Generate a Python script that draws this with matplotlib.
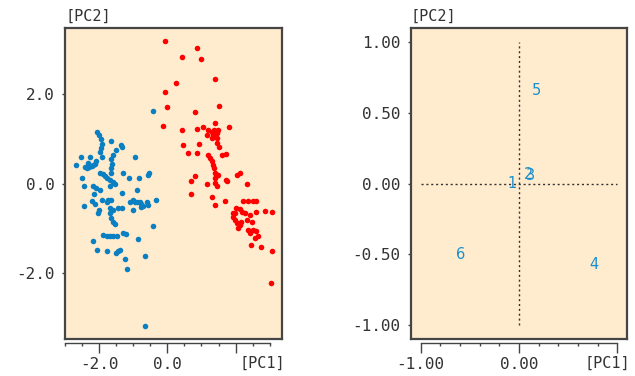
import matplotlib
matplotlib.use('Agg')
import matplotlib.pyplot as plt

plt.rcParams['axes.unicode_minus'] = False

# scores (left panel)
blue_pc1 = [-2.06, -2.00, -1.96, -1.93, -1.95, -1.98, -1.93, -1.64, -1.36, -1.34,
            -1.52, -1.59, -1.64, -1.61, -1.64, -1.64, -2.52, -2.27, -0.95, -2.69,
            -2.42, -2.35, -2.29, -2.22, -2.17, -2.13, -2.08, -2.32, -1.98, -1.90,
            -1.83, -1.78, -1.69, -1.59, -1.54, -1.69, -2.49, -2.44, -2.17, -2.08,
            -1.98, -1.30, -1.12, -0.84, -0.53, -0.58, -0.90, -1.32, -2.15, -2.20,
            -1.93, -1.74, -1.64, -1.78, -2.44, -2.13, -2.00, -2.03, -1.69, -1.59,
            -1.44, -1.34, -1.69, -1.10, -1.02, -0.95, -0.88, -0.81, -0.76, -0.71,
            -0.78, -1.00, -0.59, -0.56, -0.33, -1.64, -1.59, -1.54, -1.88, -1.78,
            -1.69, -1.59, -1.49, -1.30, -1.20, -2.19, -0.87, -0.41, -2.06, -1.78,
            -1.51, -1.44, -1.39, -1.25, -0.66, -1.17, -0.66, -0.42]
blue_pc2 = [1.17, 1.09, 1.00, 0.89, 0.80, 0.70, 0.61, 0.96, 0.87, 0.83,
            0.76, 0.65, 0.55, 0.44, 0.35, 0.25, 0.61, 0.61, 0.61, 0.41,
            0.38, 0.35, 0.37, 0.40, 0.42, 0.44, 0.50, 0.46, 0.25, 0.22,
            0.17, 0.12, 0.09, 0.03, -0.01, -0.06, 0.12, -0.04, -0.06, -0.09,
            -0.14, 0.23, 0.12, 0.12, 0.25, 0.20, -0.15, -0.21, -0.23, -0.39,
            -0.36, -0.36, -0.36, -0.42, -0.49, -0.45, -0.59, -0.66, -0.55, -0.59,
            -0.55, -0.55, -0.66, -0.40, -0.36, -0.40, -0.40, -0.42, -0.45, -0.51,
            -0.53, -0.59, -0.40, -0.47, -0.36, -0.77, -0.85, -0.90, -1.15, -1.17,
            -1.17, -1.17, -1.17, -1.11, -1.13, -1.28, -1.24, -0.94, -1.49, -1.51,
            -1.56, -1.51, -1.48, -1.69, -1.62, -1.92, -3.19, 1.64]

red_pc1 = [-0.07, 0.88, 0.43, 0.98, 1.39, 0.26, -0.07, -0.02, 0.81, 1.52,
           1.39, -0.12, 0.43, 0.88, 1.05, 1.20, 1.30, 1.36, 1.44, 1.49,
           1.34, 1.15, 1.30, 1.44, 1.46, 1.81, 0.46, 0.59, 0.88, 0.93,
           1.52, 1.59, 1.71, 1.20, 1.25, 1.30, 1.34, 1.36, 1.39, 1.44,
           1.49, 1.39, 0.81, 0.68, 1.15, 1.39, 1.44, 1.72, 1.76, 2.03,
           2.13, 2.32, 0.68, 1.32, 1.39, 1.69, 1.98, 2.22, 2.37, 2.52,
           2.61, 2.01, 2.13, 2.20, 2.27, 1.91, 1.93, 1.98, 2.03, 2.13,
           2.08, 2.17, 2.32, 2.42, 2.47, 2.37, 2.42, 2.52, 2.61, 2.66,
           2.57, 2.44, 2.74, 2.86, 3.07, 2.61, 3.07, 3.03]
red_pc2 = [3.21, 3.04, 2.84, 2.79, 2.35, 2.26, 2.06, 1.73, 1.60, 1.74,
           1.36, 1.30, 1.21, 1.22, 1.27, 1.21, 1.17, 1.21, 1.13, 1.21,
           1.09, 1.09, 1.02, 1.02, 0.91, 1.27, 0.86, 0.68, 0.68, 0.89,
           0.83, 0.65, 0.66, 0.65, 0.57, 0.50, 0.42, 0.35, 0.23, 0.20,
           0.20, 0.12, 0.17, 0.05, -0.01, 0.01, -0.05, 0.09, 0.05, 0.20,
           0.25, -0.01, -0.24, -0.30, -0.47, -0.39, -0.65, -0.39, -0.39, -0.39,
           -0.39, -0.54, -0.57, -0.63, -0.66, -0.66, -0.74, -0.81, -0.89, -0.92,
           -1.00, -0.85, -0.81, -0.70, -0.85, -1.04, -1.11, -1.04, -1.07, -1.17,
           -1.22, -1.37, -1.41, -0.61, -0.63, -0.63, -1.51, -2.23]

# loadings (right panel)
var_names = ['1', '2', '3', '4', '5', '6']
load_pc1 = [-0.07, 0.095, 0.12, 0.76, 0.18, -0.59]
load_pc2 = [0.00, 0.065, 0.06, -0.576, 0.66, -0.50]

bg = '#ffecce'
edge = '#454545'
mono = 'DejaVu Sans Mono'

fig = plt.figure(figsize=(6.35, 3.76), dpi=100)
ax1 = fig.add_axes([0.1024, 0.0984, 0.3417, 0.8271])
ax2 = fig.add_axes([0.6472, 0.0984, 0.3402, 0.8271])


def style(ax, xlim, ylim, xmajor, xlabels, xminor, yticks, ylabels):
    ax.set_facecolor(bg)
    ax.set_xlim(xlim)
    ax.set_ylim(ylim)
    for s in ['left', 'top', 'right']:
        ax.spines[s].set_color(edge)
        ax.spines[s].set_linewidth(1.6)
    # box bottom edge, x axis drawn a little below it
    ax.plot([0, 1], [0, 0], transform=ax.transAxes, color=edge, lw=1.6,
            clip_on=False, zorder=5)
    ax.spines['bottom'].set_position(('outward', 3))
    ax.spines['bottom'].set_bounds(xminor[0], xminor[-1])
    ax.spines['bottom'].set_color(edge)
    ax.spines['bottom'].set_linewidth(1.0)
    ax.set_xticks(xmajor)
    ax.set_xticklabels(xlabels, family=mono, fontsize=11.5, color='#333333')
    ax.set_xticks(xminor, minor=True)
    ax.set_yticks(yticks)
    ax.set_yticklabels(ylabels, family=mono, fontsize=11.5, color='#333333')
    ax.tick_params(axis='x', which='major', length=7, width=1, color=edge, pad=3)
    ax.tick_params(axis='x', which='minor', length=2.5, width=1, color=edge)
    ax.tick_params(axis='y', length=2.5, width=1, color=edge, pad=5)
    ax.text(0.0, 1.039, '[PC2]', transform=ax.transAxes, ha='left', va='center',
            family=mono, fontsize=11, color='#333333')
    ax.text(1.015, -0.077, '[PC1]', transform=ax.transAxes, ha='right', va='center',
            family=mono, fontsize=11, color='#333333')


style(ax1, (-3.0, 3.36), (-3.48, 3.49),
      [-2, 0, 2], ['-2.0', '0.0', ''],
      [-3 + 0.5 * i for i in range(13)],
      [-2, 0, 2], ['-2.0', '0.0', '2.0'])
ax1.plot(blue_pc1, blue_pc2, 'o', color='#0a7fc2', markersize=4, markeredgewidth=0)
ax1.plot(red_pc1, red_pc2, 'o', color='#ff0000', markersize=4, markeredgewidth=0)

style(ax2, (-1.1, 1.1), (-1.1, 1.1),
      [-1, 0, 1], ['-1.00', '0.00', ''],
      [-1 + 0.2 * i for i in range(11)],
      [-1, -0.5, 0, 0.5, 1], ['-1.00', '-0.50', '0.00', '0.50', '1.00'])
ax2.plot([-1, 1], [0, 0], color='#333333', lw=1, linestyle=(0, (1.5, 2)))
ax2.plot([0, 0], [-1, 1], color='#333333', lw=1, linestyle=(0, (1.5, 2)))
for name, x, y in zip(var_names, load_pc1, load_pc2):
    ax2.text(x, y, name, ha='center', va='center', fontsize=10.5, color='#1a8fd0')

plt.savefig('out.png', dpi=100)
